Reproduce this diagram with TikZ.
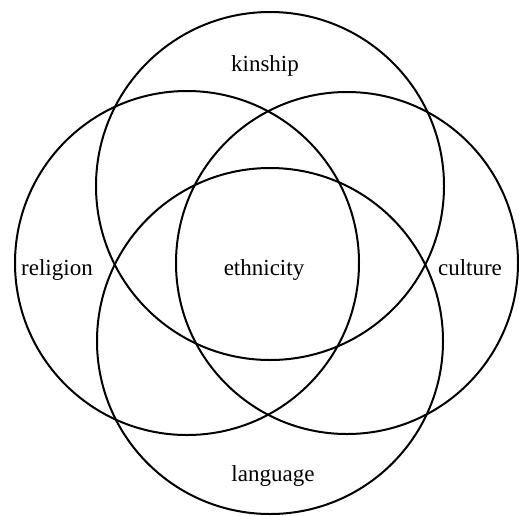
\documentclass[tikz,border=0pt]{standalone}
\usepackage{fontspec}
\setmainfont{Liberation Serif}
\begin{document}
\begin{tikzpicture}[x=1pt,y=-1pt,
  ring/.style={draw=black, line width=2pt, circle, inner sep=0pt, minimum size=#1},
  lbl/.style={anchor=base, inner sep=0pt, font=\fontsize{23}{27}\selectfont}]
\useasboundingbox (0,0) rectangle (519,515);
\node[ring=348pt] (top) at (270,186) {};
\node[ring=344pt] (left) at (187,263) {};
\node[ring=342pt] (right) at (347,263) {};
\node[ring=346pt] (bottom) at (270,341) {};
\node[lbl] (kin) at (265,71) {kinship};
\node[lbl] (rel) at (57,275) {religion};
\node[lbl] (cul) at (470,275) {culture};
\node[lbl] (eth) at (264,275) {ethnicity};
\node[lbl] (lan) at (273,481) {language};
\end{tikzpicture}
\end{document}
